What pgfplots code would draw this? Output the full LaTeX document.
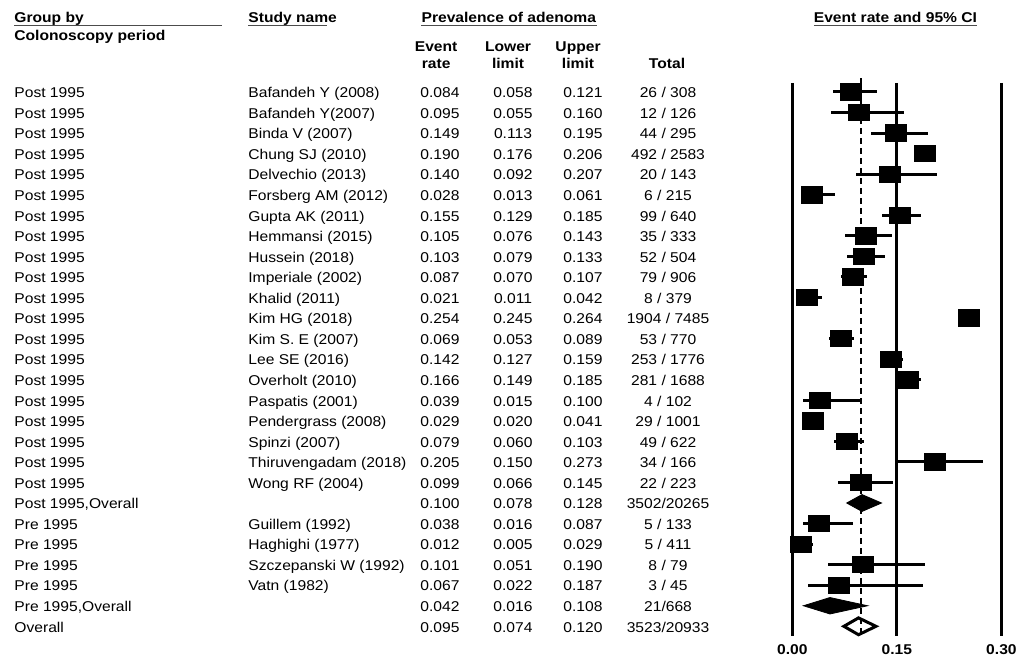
\documentclass[border=0pt]{standalone}
\usepackage{pgfplots}
\pgfplotsset{compat=1.18}
\usepackage{pgfplotstable}
\usepackage{fontspec}
\setmainfont{Liberation Sans}[FakeStretch=1.1]
\newcommand\tf{\fontsize{7.1}{8.5}\selectfont}

\pgfplotstableread[col sep=semicolon]{
row;group;er;lo;up;tot
0;Post 1995;0.084;0.058;0.121;26 / 308
1;Post 1995;0.095;0.055;0.160;12 / 126
2;Post 1995;0.149;0.113;0.195;44 / 295
3;Post 1995;0.190;0.176;0.206;492 / 2583
4;Post 1995;0.140;0.092;0.207;20 / 143
5;Post 1995;0.028;0.013;0.061;6 / 215
6;Post 1995;0.155;0.129;0.185;99 / 640
7;Post 1995;0.105;0.076;0.143;35 / 333
8;Post 1995;0.103;0.079;0.133;52 / 504
9;Post 1995;0.087;0.070;0.107;79 / 906
10;Post 1995;0.021;0.011;0.042;8 / 379
11;Post 1995;0.254;0.245;0.264;1904 / 7485
12;Post 1995;0.069;0.053;0.089;53 / 770
13;Post 1995;0.142;0.127;0.159;253 / 1776
14;Post 1995;0.166;0.149;0.185;281 / 1688
15;Post 1995;0.039;0.015;0.100;4 / 102
16;Post 1995;0.029;0.020;0.041;29 / 1001
17;Post 1995;0.079;0.060;0.103;49 / 622
18;Post 1995;0.205;0.150;0.273;34 / 166
19;Post 1995;0.099;0.066;0.145;22 / 223
20;Post 1995,Overall;0.100;0.078;0.128;3502/20265
21;Pre 1995;0.038;0.016;0.087;5 / 133
22;Pre 1995;0.012;0.005;0.029;5 / 411
23;Pre 1995;0.101;0.051;0.190;8 / 79
24;Pre 1995;0.067;0.022;0.187;3 / 45
25;Pre 1995,Overall;0.042;0.016;0.108;21/668
26;Overall;0.095;0.074;0.120;3523/20933
}\rows

\pgfplotstableread[col sep=semicolon]{
row;study;er;lo;up
0;Bafandeh Y (2008);0.084;0.058;0.121
1;Bafandeh Y(2007);0.095;0.055;0.160
2;Binda V (2007);0.149;0.113;0.195
3;Chung SJ (2010);0.190;0.176;0.206
4;Delvechio (2013);0.140;0.092;0.207
5;Forsberg AM (2012);0.028;0.013;0.061
6;Gupta AK (2011);0.155;0.129;0.185
7;Hemmansi (2015);0.105;0.076;0.143
8;Hussein (2018);0.103;0.079;0.133
9;Imperiale (2002);0.087;0.070;0.107
10;Khalid (2011);0.021;0.011;0.042
11;Kim HG (2018);0.254;0.245;0.264
12;Kim S. E (2007);0.069;0.053;0.089
13;Lee SE (2016);0.142;0.127;0.159
14;Overholt (2010);0.166;0.149;0.185
15;Paspatis (2001);0.039;0.015;0.100
16;Pendergrass (2008);0.029;0.020;0.041
17;Spinzi (2007);0.079;0.060;0.103
18;Thiruvengadam (2018);0.205;0.150;0.273
19;Wong RF (2004);0.099;0.066;0.145
21;Guillem (1992);0.038;0.016;0.087
22;Haghighi (1977);0.012;0.005;0.029
23;Szczepanski W (1992);0.101;0.051;0.190
24;Vatn  (1982);0.067;0.022;0.187
}\studies

\begin{document}
\begin{tikzpicture}
\begin{axis}[
  scale only axis, width=510.5pt, height=331.5pt,
  xmin=-1.1367, xmax=0.3281, ymin=-4.477, ymax=27.786,
  y dir=reverse, hide axis, clip=false,
  txt/.style={only marks, mark=none, nodes near coords, point meta=explicit symbolic,
    nodes near coords style={inner sep=0pt, font=\tf, text=black}},
]
% fix the picture's extent to the full axis area
\path[draw=none] (rel axis cs:0,0) rectangle (rel axis cs:1,1);

% reference lines
\addplot[black, line width=1.6pt] coordinates {(0,-0.44) (0,26.47)};
\addplot[black, line width=1.6pt] coordinates {(0.15,-0.44) (0.15,26.47)};
\addplot[black, line width=1.6pt] coordinates {(0.30,-0.44) (0.30,26.47)};
\addplot[black, line width=1pt, dash pattern=on 3pt off 2pt] coordinates {(0.099,-0.68) (0.099,26.52)};

% study estimates and CIs
\addplot[black, only marks, mark=square*, mark size=4.1pt,
  mark options={xscale=1.28, fill=black, draw=black},
  error bars/.cd, x dir=both, x explicit, error mark=none,
  error bar style={line width=1.5pt, black}]
  table[x=er, y=row, x error plus expr=\thisrow{up}-\thisrow{er},
        x error minus expr=\thisrow{er}-\thisrow{lo}] {\studies};

% summary diamonds
\addplot[black, fill=black] coordinates {(0.078,20) (0.100,19.59) (0.128,20) (0.100,20.41)} -- cycle;
\addplot[black, fill=black] coordinates {(0.016,25) (0.054,24.6) (0.108,25) (0.054,25.4)} -- cycle;
\addplot[black, line width=1.5pt, fill=none] coordinates {(0.074,26) (0.095,25.59) (0.120,26) (0.095,26.41)} -- cycle;

% table text
\addplot[txt, nodes near coords style={anchor=base west}] table[x expr=-1.1166, y expr=\thisrow{row}+0.28, meta=group] {\rows};
\addplot[txt, nodes near coords style={anchor=base west}] table[x expr=-0.7809, y expr=\thisrow{row}+0.28, meta=study] {\studies};
\addplot[txt, nodes near coords style={anchor=base}] table[x expr=-0.5055, y expr=\thisrow{row}+0.28, meta=er] {\rows};
\addplot[txt, nodes near coords style={anchor=base}] table[x expr=-0.4007, y expr=\thisrow{row}+0.28, meta=lo] {\rows};
\addplot[txt, nodes near coords style={anchor=base}] table[x expr=-0.3003, y expr=\thisrow{row}+0.28, meta=up] {\rows};
\addplot[txt, nodes near coords style={anchor=base}] table[x expr=-0.1783, y expr=\thisrow{row}+0.28, meta=tot] {\rows};

% headers
\begin{scope}[every node/.style={inner sep=0pt, font=\tf\bfseries}]
\node[anchor=base west] at (axis cs:-1.1166,-3.406) {Group by};
\node[anchor=base west] at (axis cs:-1.1166,-2.51) {Colonoscopy period};
\node[anchor=base west] at (axis cs:-0.7809,-3.406) {Study name};
\node[anchor=base] at (axis cs:-0.4067,-3.406) {Prevalence of adenoma};
\node[anchor=base] at (axis cs:-0.511,-1.976) {Event};
\node[anchor=base] at (axis cs:-0.511,-1.153) {rate};
\node[anchor=base] at (axis cs:-0.4078,-1.976) {Lower};
\node[anchor=base] at (axis cs:-0.4078,-1.153) {limit};
\node[anchor=base] at (axis cs:-0.3074,-1.976) {Upper};
\node[anchor=base] at (axis cs:-0.3074,-1.153) {limit};
\node[anchor=base] at (axis cs:-0.1797,-1.153) {Total};
\node[anchor=base] at (axis cs:0.148,-3.406) {Event rate and 95\% CI};
\node at (axis cs:0,27.15) {0.00};
\node at (axis cs:0.15,27.15) {0.15};
\node at (axis cs:0.30,27.15) {0.30};
\end{scope}
\begin{scope}[gray!60!black, line width=0.8pt]
\draw (axis cs:-1.1166,-3.236) -- (axis cs:-0.8182,-3.236);
\draw (axis cs:-0.7809,-3.236) -- (axis cs:-0.6676,-3.236);
\draw (axis cs:-0.5327,-3.236) -- (axis cs:-0.2802,-3.236);
\draw (axis cs:0.0311,-3.236) -- (axis cs:0.2650,-3.236);
\end{scope}
\end{axis}
\end{tikzpicture}
\end{document}
